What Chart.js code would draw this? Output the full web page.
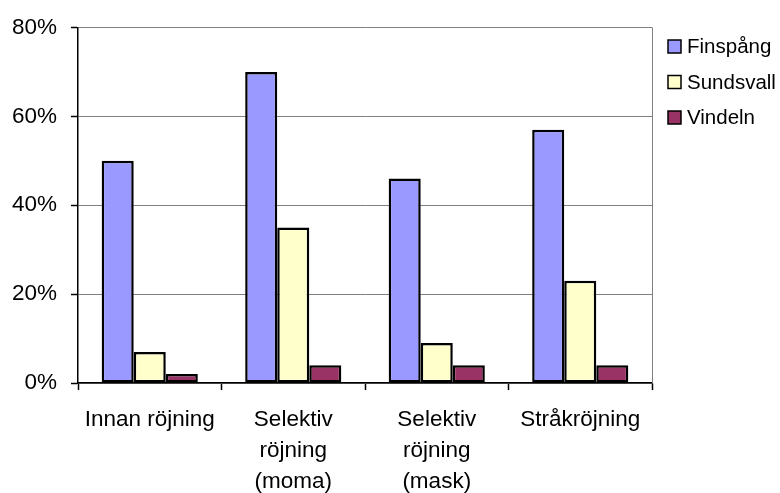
<!DOCTYPE html>
<html>
<head>
<meta charset="utf-8">
<script src="https://cdn.jsdelivr.net/npm/chart.js@4"></script>
<style>
  html, body { margin: 0; padding: 0; background: #ffffff; }
  #wrap { width: 780px; height: 493px; }
</style>
</head>
<body>
<div id="wrap"><canvas id="c" width="780" height="493"></canvas></div>
<script>
// Andel (%) per röjningsmetod och försöksplats
const categories = [
  'Innan röjning',
  ['Selektiv', 'röjning', '(moma)'],
  ['Selektiv', 'röjning', '(mask)'],
  'Stråkröjning'
];
const finspang  = [50, 70, 46, 57];
const sundsvall = [7, 35, 9, 23];
const vindeln   = [2, 4, 4, 4];
const seriesNames = ['Finspång', 'Sundsvall', 'Vindeln'];
const seriesColors = ['#9999FF', '#FFFFCC', '#993366'];
const yTicks = [0, 20, 40, 60, 80];

const FONT = '"Liberation Sans", Arial, sans-serif';

// Plot frame (right edge) and a legend of boxed swatches on the right side
const framePlugin = {
  id: 'frame',
  beforeDatasetsDraw(chart) {
    const { ctx, chartArea: a } = chart;
    ctx.save();
    ctx.strokeStyle = '#808080';
    ctx.lineWidth = 1;
    ctx.beginPath();
    ctx.moveTo(Math.round(a.right) + 0.5, a.top);
    ctx.lineTo(Math.round(a.right) + 0.5, a.bottom);
    ctx.stroke();
    ctx.restore();
  },
  afterDraw(chart) {
    const { ctx } = chart;
    ctx.save();
    ctx.font = '20.5px ' + FONT;
    ctx.textBaseline = 'middle';
    ctx.textAlign = 'left';
    const x0 = 668, y0 = 46.5, step = 35.5, sz = 13;
    chart.data.datasets.forEach((ds, i) => {
      const cy = y0 + i * step;
      ctx.fillStyle = ds.backgroundColor;
      ctx.fillRect(x0, cy - sz / 2, sz, sz);
      ctx.strokeStyle = '#000000';
      ctx.lineWidth = 1.5;
      ctx.strokeRect(x0, cy - sz / 2, sz, sz);
      ctx.fillStyle = '#000000';
      ctx.fillText(ds.label, x0 + 19, cy + 1);
    });
    ctx.restore();
  }
};

const datasets = [finspang, sundsvall, vindeln].map((vals, i) => ({
  label: seriesNames[i],
  data: vals,
  backgroundColor: seriesColors[i],
  borderColor: '#000000',
  borderWidth: 2.5,
  borderSkipped: false,
  barPercentage: 1.0,
  categoryPercentage: 0.67
}));

new Chart(document.getElementById('c'), {
  type: 'bar',
  data: { labels: categories, datasets },
  options: {
    responsive: false,
    animation: false,
    devicePixelRatio: 1,
    layout: { padding: { top: 25, right: 128, left: 0, bottom: 0 } },
    plugins: {
      legend: { display: false },
      tooltip: { enabled: false }
    },
    scales: {
      x: {
        offset: true,
        grid: {
          offset: true,
          drawOnChartArea: false,
          drawTicks: true,
          tickLength: 7,
          tickColor: '#000000',
          tickWidth: 1.5
        },
        border: { display: true, color: '#000000', width: 1.5 },
        ticks: {
          color: '#000000',
          font: { family: FONT, size: 22.5, lineHeight: 1.38 },
          padding: 14,
          maxRotation: 0,
          autoSkip: false
        },
        afterFit(scale) { scale.height = 110; }
      },
      y: {
        min: 0,
        max: 80,
        afterBuildTicks(scale) { scale.ticks = yTicks.map(v => ({ value: v })); },
        grid: {
          color: '#808080',
          lineWidth: 1,
          drawTicks: true,
          tickLength: 7,
          tickColor: '#000000',
          tickWidth: 1.5
        },
        border: { display: true, color: '#000000', width: 1.5 },
        ticks: {
          color: '#000000',
          font: { family: FONT, size: 22.5 },
          padding: 14,
          callback: v => v + '%'
        },
        afterFit(scale) { scale.width = 78; }
      }
    }
  },
  plugins: [framePlugin]
});
</script>
</body>
</html>
